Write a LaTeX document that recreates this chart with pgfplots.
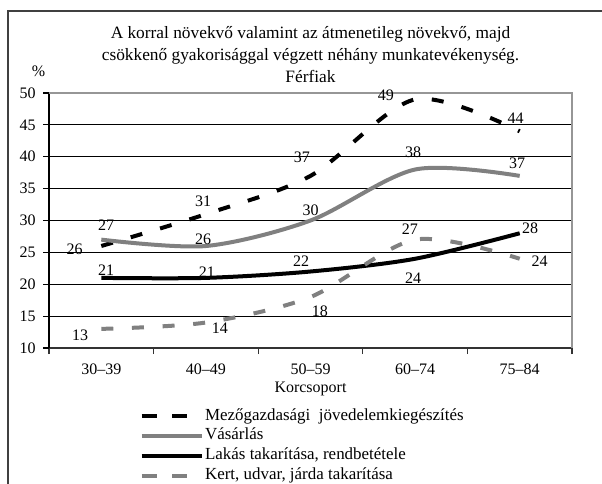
\documentclass[border=0pt]{standalone}
\usepackage{fontspec}
\setmainfont{Liberation Serif}
\usepackage{pgfplots}
\usepackage{pgfplotstable}
\pgfplotsset{compat=1.18}

\definecolor{serieGray}{RGB}{128,128,128}
\definecolor{frameGray}{RGB}{150,150,150}

% x = category index, y = percent, dx/dy = offset of the value label (pt)
\pgfplotstableread{
x y dx dy
0 26 -20 -2.2
1 31 -2 10
2 37 -6.4 14
3 49 -22 3.3
4 44 -3 10
}\mezo
\pgfplotstableread{
x y dx dy
0 27 3.7 11
1 26 -2 5
2 30 0 7.5
3 38 -1.5 13
4 37 -2 9.5
}\vasarlas
\pgfplotstableread{
x y dx dy
0 21 3.7 5.5
1 21 0.7 4.5
2 22 -7 8
3 24 -1.5 -14.5
4 28 7.8 4
}\lakas
\pgfplotstableread{
x y dx dy
0 13 -15.8 -4.6
1 14 10.5 -4.5
2 18 7 -11
3 27 -4 8
4 24 15 -1.7
}\kert

\pgfplotsset{
  valuelabels/.style={
    draw=none, forget plot, mark=none,
    nodes near coords, point meta=\thisrow{y},
    visualization depends on={\thisrow{dx} \as \labdx},
    visualization depends on={\thisrow{dy} \as \labdy},
    every node near coord/.append style={anchor=center, xshift=\labdx pt, yshift=\labdy pt,
      font=\fontsize{12}{14}\selectfont, text=black, inner sep=0pt},
  },
  dashedleg/.style={legend image code/.code={
      \draw[##1, dash pattern=on 9pt off 13.5pt] (2.25pt,0pt) -- (33.75pt,0pt);
      \path (0pt,0pt) -- (45pt,0pt);}},
  solidleg/.style={legend image code/.code={
      \draw[##1] (0pt,0pt) -- (45pt,0pt);}},
}

\begin{document}
\begin{tikzpicture}
\path[use as bounding box] (0pt,0pt) rectangle (451.5pt,362.25pt);
\draw[line width=1.4pt, black!75] (6pt,-2pt) -- (6pt,354pt) -- (453pt,354pt);

\begin{axis}[
  at={(36.75pt,101.25pt)}, anchor=south west,
  scale only axis, width=392.25pt, height=191.25pt,
  xmin=-0.5, xmax=4.5, ymin=10, ymax=50,
  axis lines*=left,
  axis line style={black, line width=0.8pt},
  x axis line style={black!80, line width=1.1pt},
  xtick={0,1,2,3,4},
  xticklabels={30--39,40--49,50--59,60--74,75--84},
  major x tick style={draw=none},
  minor xtick={-0.5,0.5,1.5,2.5,3.5,4.5},
  minor x tick style={black!80, line width=0.8pt},
  minor tick length=4.5pt,
  ytick={10,15,...,50},
  major tick length=4.5pt,
  tick align=outside,
  y tick style={black, line width=0.8pt},
  ymajorgrids, grid style={black, line width=0.6pt},
  tick label style={font=\fontsize{12}{14}\selectfont},
  xticklabel style={inner sep=0pt, anchor=center, yshift=-11.5pt},
  yticklabel style={xshift=-2pt},
  /pgf/number format/assume math mode=true,
  xlabel={Korcsoport},
  xlabel style={font=\fontsize{12}{14}\selectfont, at={(axis description cs:0.5,0)},
    anchor=center, inner sep=0pt, yshift=-30.5pt},
  clip=false,
  legend style={at={(rel axis cs:0.173,-0.229)}, anchor=north west, draw=none, fill=none,
    font=\fontsize{12.7}{14.5}\selectfont, legend cell align=left, row sep=0.3pt,
    inner sep=0pt, nodes={inner sep=1pt, text height=9pt, text depth=3.5pt}},
  title={A korral növekvő valamint az átmenetileg növekvő, majd\\csökkenő gyakorisággal végzett néhány munkatevékenység.\\Férfiak},
  title style={align=center, font=\fontsize{13}{16.5}\selectfont, yshift=-2pt},
]
\draw[frameGray, line width=1.1pt] (rel axis cs:0,1) -- (rel axis cs:1,1) -- (rel axis cs:1,0);

\addplot[black, line width=3pt, dash pattern=on 9pt off 14pt, smooth, tension=0.5, dashedleg] table[x=x,y=y] {\mezo};
\addlegendentry{Mezőgazdasági\ \ jövedelemkiegészítés}
\addplot[serieGray, line width=3pt, smooth, tension=0.5, solidleg] table[x=x,y=y] {\vasarlas};
\addlegendentry{Vásárlás}
\addplot[black, line width=3pt, smooth, tension=0.5, solidleg] table[x=x,y=y] {\lakas};
\addlegendentry{Lakás takarítása, rendbetétele}
\addplot[serieGray, line width=3pt, dash pattern=on 9pt off 14pt, smooth, tension=0.5, dashedleg] table[x=x,y=y] {\kert};
\addlegendentry{Kert, udvar, járda takarítása}

\addplot[valuelabels] table[x=x,y=y] {\mezo};
\addplot[valuelabels] table[x=x,y=y] {\vasarlas};
\addplot[valuelabels] table[x=x,y=y] {\lakas};
\addplot[valuelabels] table[x=x,y=y] {\kert};

\node[font=\fontsize{12}{14}\selectfont] at (rel axis cs:-0.02,1) [yshift=16pt] {\%};
\end{axis}
\end{tikzpicture}
\end{document}
